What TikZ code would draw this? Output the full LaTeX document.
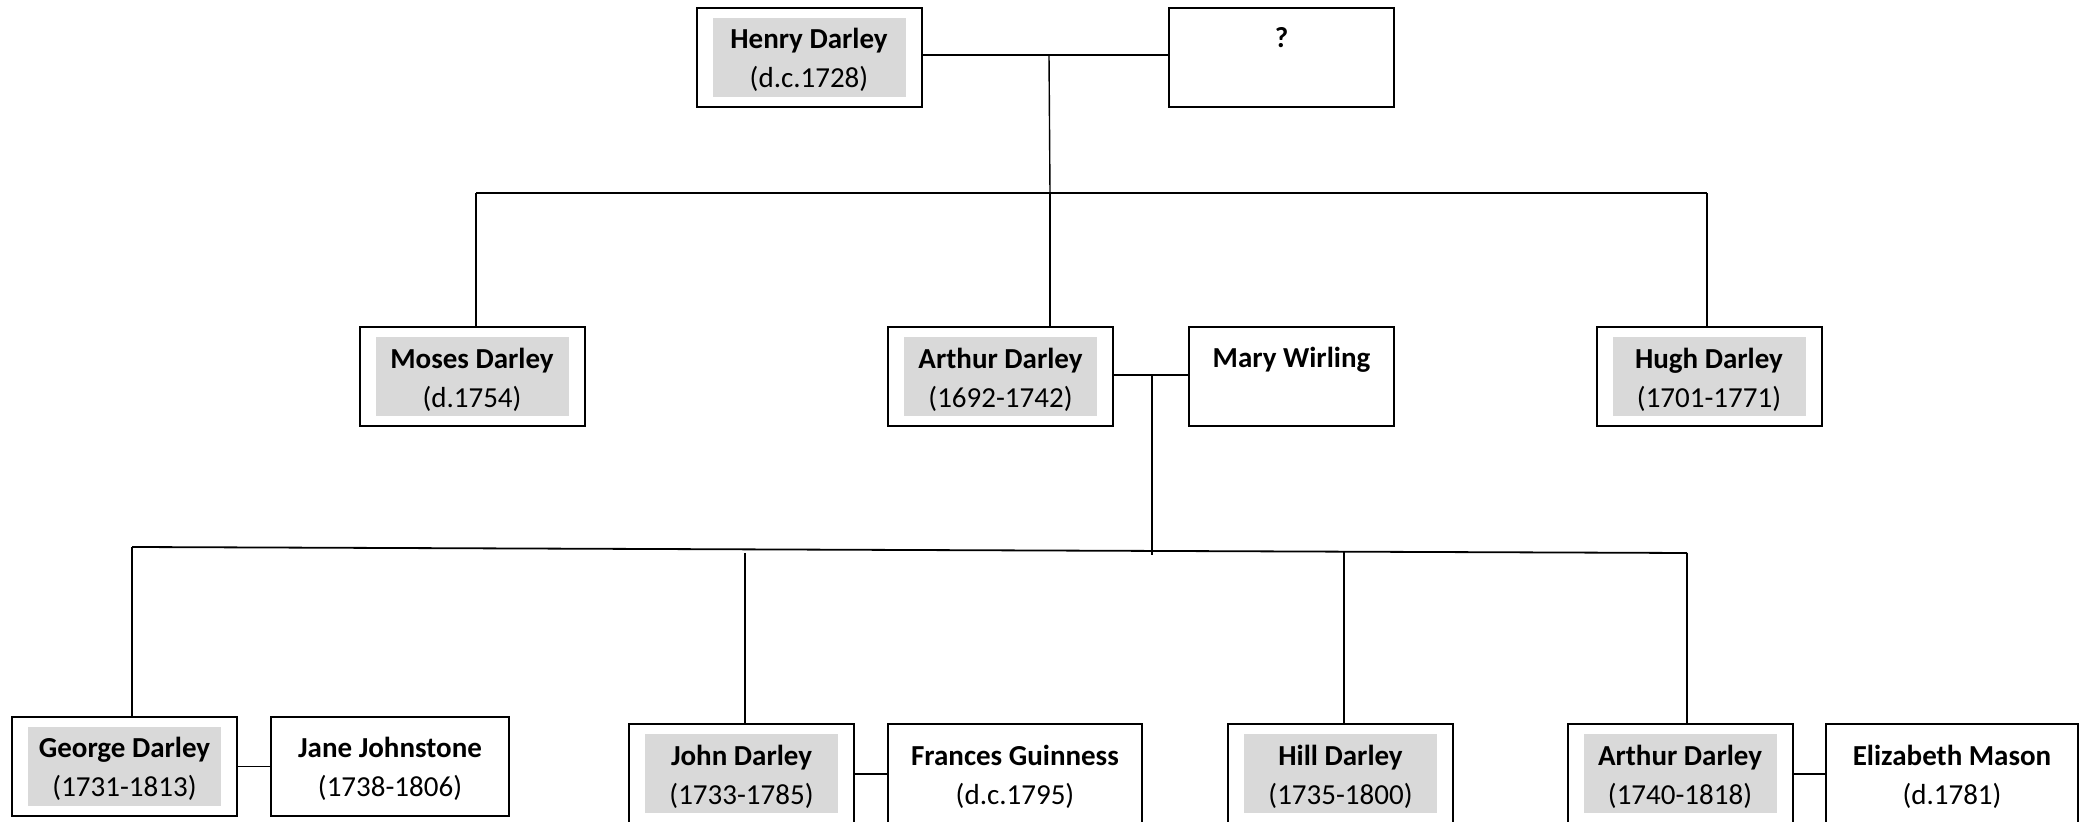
\documentclass[tikz,border=0pt]{standalone}
\usepackage{fontspec}
\setmainfont{Carlito}
\definecolor{boxgrey}{HTML}{D9D9D9}
\newcommand\ptext{\fontsize{14.5}{19.5}\selectfont}
\tikzset{
 pbox/.style={draw=black, line width=1pt, minimum width=112.5pt, minimum height=49.5pt, inner sep=0pt},
 gbox/.style={fill=boxgrey, minimum width=96.5pt, minimum height=39.5pt, inner sep=0pt, align=center, font=\ptext},
 gtext/.style={inner sep=0pt, align=center, font=\ptext, yshift=-1.3pt},
 tbox/.style={inner sep=0pt, align=center, font=\ptext, yshift=-1.3pt},
 sbox/.style={inner sep=0pt, align=center, font=\ptext, yshift=-2.7pt},
 link/.style={line width=0.7pt},
 blink/.style={line width=0.9pt}
}
\begin{document}
\begin{tikzpicture}[x=0.5pt,y=-0.5pt]
\useasboundingbox (0,0) rectangle (2090,822);
\clip (0,0) rectangle (2090,822);
% top row
\node[pbox] (henry) at (809,57.5) {};
\node[gbox] (henryg) at (henry.center) {};
\node[gtext] (henryt) at (henry.center) {\textbf{Henry Darley}\\(d.c.1728)};
\node[pbox] (q) at (1281.5,57.5) {};
\node[sbox] (qt) at (q.center) {\textbf{?}\\\strut};
% middle row
\node[pbox] (moses) at (472,377) {};
\node[gbox] (mosesg) at (moses.center) {};
\node[gtext] (mosest) at (moses.center) {\textbf{Moses Darley}\\(d.1754)};
\node[pbox] (arthur) at (1000.5,377) {};
\node[gbox] (arthurg) at (arthur.center) {};
\node[gtext] (arthurt) at (arthur.center) {\textbf{Arthur Darley}\\(1692-1742)};
\node[pbox, minimum width=102.5pt] (mary) at (1291.5,377) {};
\node[sbox] (maryt) at (mary.center) {\textbf{Mary Wirling}\\\strut};
\node[pbox] (hugh) at (1709,377) {};
\node[gbox] (hughg) at (hugh.center) {};
\node[gtext] (hught) at (hugh.center) {\textbf{Hugh Darley}\\(1701-1771)};
% bottom row
\node[pbox] (george) at (124.5,766.5) {};
\node[gbox] (georgeg) at (george.center) {};
\node[gtext] (georget) at (george.center) {\textbf{George Darley}\\(1731-1813)};
\node[pbox, minimum width=119pt] (jane) at (390,766.5) {};
\node[tbox] (janet) at (jane.center) {\textbf{Jane Johnstone}\\(1738-1806)};
\node[pbox] (john) at (741.5,774) {};
\node[gbox] (johng) at (john.center) {};
\node[gtext] (johnt) at (john.center) {\textbf{John Darley}\\(1733-1785)};
\node[pbox, minimum width=127pt] (frances) at (1015,774) {};
\node[tbox] (francest) at (frances.center) {\textbf{Frances Guinness}\\(d.c.1795)};
\node[pbox] (hill) at (1340.5,774) {};
\node[gbox] (hillg) at (hill.center) {};
\node[gtext] (hillt) at (hill.center) {\textbf{Hill Darley}\\(1735-1800)};
\node[pbox] (arthurj) at (1680,774) {};
\node[gbox] (arthurjg) at (arthurj.center) {};
\node[gtext] (arthurjt) at (arthurj.center) {\textbf{Arthur Darley}\\(1740-1818)};
\node[pbox, minimum width=126pt] (eliz) at (1952,774) {};
\node[tbox] (elizt) at (eliz.center) {\textbf{Elizabeth Mason}\\(d.1781)};
% connectors, generation 1
\coordinate (c1) at (1049,55);
\coordinate (c2) at (1050,193);
\coordinate (m1) at (476,193);
\coordinate (h1) at (1707,193);
\draw[link] (henry.east |- c1) -- (q.west |- c1);
\draw[link] (c1) -- (c2);
\draw[blink] (m1) -- (h1);
\draw[link] (m1) -- (m1 |- moses.north);
\draw[link] (c2) -- (c2 |- arthur.north);
\draw[link] (h1) -- (h1 |- hugh.north);
% connectors, generation 2
\coordinate (c3) at (1152,375);
\coordinate (c4) at (1152,555);
\coordinate (g1) at (132,547);
\coordinate (a1) at (1687,553);
\draw[link] (arthur.east |- c3) -- (mary.west |- c3);
\draw[link] (c3) -- (c4);
\draw[blink] (g1) -- (a1);
\draw[link] (g1) -- (g1 |- george.north);
\draw[link] (745,553) -- (745,0 |- john.north);
\draw[link] (1344,552) -- (1344,0 |- hill.north);
\draw[link] (a1) -- (a1 |- arthurj.north);
% couples
\draw[link] (george.east) -- (jane.west);
\draw[link] (john.east) -- (frances.west);
\draw[link] (arthurj.east) -- (eliz.west);
\end{tikzpicture}
\end{document}
